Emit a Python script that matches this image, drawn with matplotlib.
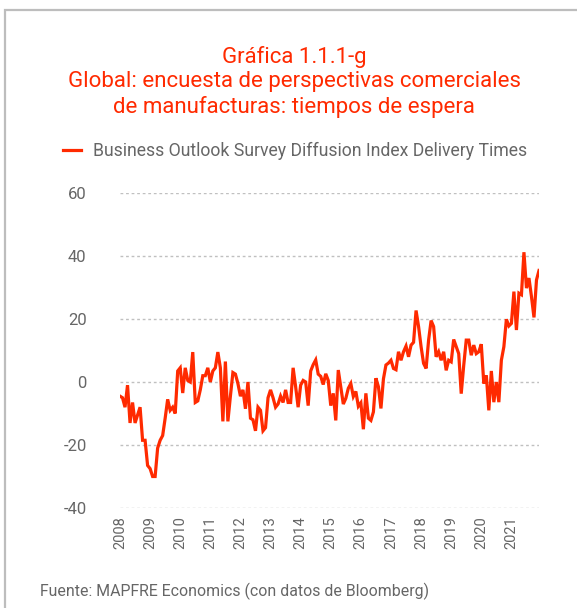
import numpy as np
import matplotlib
matplotlib.use("Agg")
import matplotlib.pyplot as plt
from matplotlib.patches import Rectangle

plt.rcParams['font.family'] = ['Roboto', 'DejaVu Sans']
plt.rcParams['axes.unicode_minus'] = False

# valores mensuales ene-2008 .. dic-2021
valores_2008_2011 = [-4.5, -5, -8, -1, -13, -6.5, -13, -10.5, -8, -18.5, -18.5, -26.5,
                     -27.5, -30, -30, -21, -18.5, -17, -11.5, -5.5, -9, -8, -10, 3.5,
                     4.5, -3.5, 4.5, 0.5, 0, 9.5, -6.5, -6, -2.5, 2, 2, 4.5,
                     0, 3.5, 4.5, 9.5, 4.5, -12.5, 6.5, -12.5, -4.5, 3, 2.5, -0.5]
valores_2012_2015 = [-4.5, -2.5, -8.5, 0, -11.5, -12, -15.5, -8, -9, -15.5, -14.5, -5,
                     -2.5, -5, -8, -7, -4.5, -6.5, -2.5, -6.5, -6.5, 4.5, -1.5, -8,
                     -1, 0.5, 0, -7.5, 3.5, 5.5, 7, 2.5, 1.8, -0.8, 2.6, 0.5,
                     -7.5, -3.6, -12.2, 3.8, -1.5, -7, -5.2, -2, -0.5, -4.6, -3, -7.7]
valores_2016_2019 = [-6.6, -15, -3.6, -11.5, -12.2, -9.5, 1.2, -1.5, -8.4, 1, 5.4, 6,
                     6.9, 4.3, 3.9, 9.6, 6.9, 9.6, 11.4, 8, 11.7, 12.6, 22.7, 17.6,
                     11.2, 5.9, 4.3, 13.3, 19.5, 17.6, 8, 9.6, 6.9, 9.6, 3.7, 6.9,
                     6.4, 13.5, 11.2, 9, -3.7, 5.3, 13.3, 13.3, 8.5, 11.7, 9, 9.6]
valores_2020_2021 = [12, -0.5, 2.1, -9, 3.5, -6.4, 0, -6.4, 6.9, 11.2, 19.9, 17.8,
                     18.6, 28.7, 16.5, 28.2, 27.7, 41.2, 29.8, 33, 27.1, 20.5, 32.4, 35.4]

valores = valores_2008_2011 + valores_2012_2015 + valores_2016_2019 + valores_2020_2021
anios = [str(a) for a in range(2008, 2022)]

rojo = '#ff2a00'
gris = '#666666'

fig = plt.figure(figsize=(5.77, 6.08), dpi=100)

# marco gris
fig.patches.append(Rectangle((5 / 577, -0.1), 1.2, 1 - 10 / 608 + 0.1, transform=fig.transFigure,
                             fill=False, edgecolor='#bdbdbd', linewidth=1.6))

titulo = ['Gráfica 1.1.1-g',
          'Global: encuesta de perspectivas comerciales',
          'de manufacturas: tiempos de espera']
for i, linea in enumerate(titulo):
    fig.text(294 / 577, 1 - (57 + 25 * i) / 608, linea, color=rojo, fontsize=16,
             ha='center', va='center')

ax = fig.add_axes([120 / 577, 1 - 508 / 608, 419 / 577, 315 / 608])
x = np.arange(len(valores))
ax.plot(x, valores, color=rojo, linewidth=2.3, solid_joinstyle='miter',
        label='Business Outlook Survey Diffusion Index Delivery Times')

ax.set_xlim(0, len(valores) - 1)
ax.set_ylim(-40, 60)
ax.set_yticks([-40, -20, 0, 20, 40, 60])
ax.set_xticks(np.arange(0, len(valores), 12))
ax.set_xticklabels(anios, rotation=90)
ax.tick_params(axis='y', length=0, pad=24, labelsize=12, labelcolor=gris)
ax.tick_params(axis='x', length=0, pad=6, labelsize=10.5, labelcolor=gris)
ax.yaxis.grid(True, color='#c0c0c0', linestyle=(0, (2, 2)), linewidth=1)
ax.set_axisbelow(True)
for s in ax.spines.values():
    s.set_visible(False)

leg = fig.legend(loc='center left', bbox_to_anchor=(47 / 577, 1 - 151 / 608), frameon=False,
                 fontsize=12.7, handlelength=1.0, handletextpad=0.7)
for t in leg.get_texts():
    t.set_color(gris)

fig.text(40 / 577, 1 - 591 / 608, 'Fuente: MAPFRE Economics (con datos de Bloomberg)',
         color=gris, fontsize=11.4, ha='left', va='center')

fig.savefig('out.png', dpi=100)
